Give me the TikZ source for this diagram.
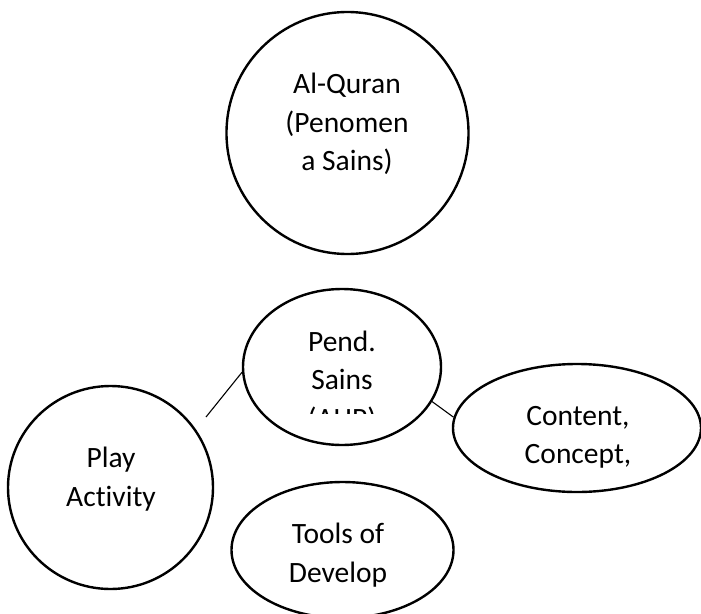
\documentclass[tikz,border=0pt]{standalone}
\usepackage{fontspec}
\setmainfont[Ligatures=NoCommon]{Carlito}
\usetikzlibrary{shapes.geometric}
\tikzset{
  bubble/.style={ellipse, draw=black, line width=2.4pt, inner sep=0pt, fill=none},
  lbl/.style={anchor=base, inner sep=0pt, font=\fontsize{29.5}{39}\selectfont, text=black},
  link/.style={draw=black, line width=1.1pt}
}
\begin{document}
\begin{tikzpicture}[x=1pt,y=-1pt]
\clip (0,0) rectangle (701,613);
\fill[white] (0,0) rectangle (701,613);
% shapes
\node[bubble, minimum width=242pt, minimum height=242pt] (quran) at (347.5,133) {};
\node[bubble, minimum width=198pt, minimum height=156pt] (pend) at (342,367) {};
\node[bubble, minimum width=205pt, minimum height=203pt] (play) at (110.5,487.5) {};
\node[bubble, minimum width=248pt, minimum height=128pt] (content) at (577,428) {};
\node[bubble, minimum width=222pt, minimum height=136pt] (tools) at (342.5,550) {};
% texts
\node[lbl] (q1) at (347,93) {Al-Quran};
\node[lbl] (q2) at (347,132) {(Penomen};
\node[lbl] (q3) at (347,170) {a Sains)};
\node[lbl] (p1) at (342,351) {Pend.};
\node[lbl] (p2) at (342,389) {Sains};
\begin{scope}
\clip (250,300) rectangle (440,413);
\node[lbl] (p3) at (342,428) {(AHP)};
\end{scope}
\node[lbl] (a1) at (111,467) {Play};
\node[lbl] (a2) at (111,506) {Activity};
\node[lbl] (c1) at (578,425) {Content,};
\node[lbl] (c2) at (578,463) {Concept,};
\node[lbl] (t1) at (338,543) {Tools of};
\node[lbl] (t2) at (338,582) {Develop};
% connectors
\coordinate (playend) at (206,417);
\draw[link] (playend) -- (pend.183);
\draw[link] (pend.-21) -- (content.175);
\end{tikzpicture}
\end{document}
